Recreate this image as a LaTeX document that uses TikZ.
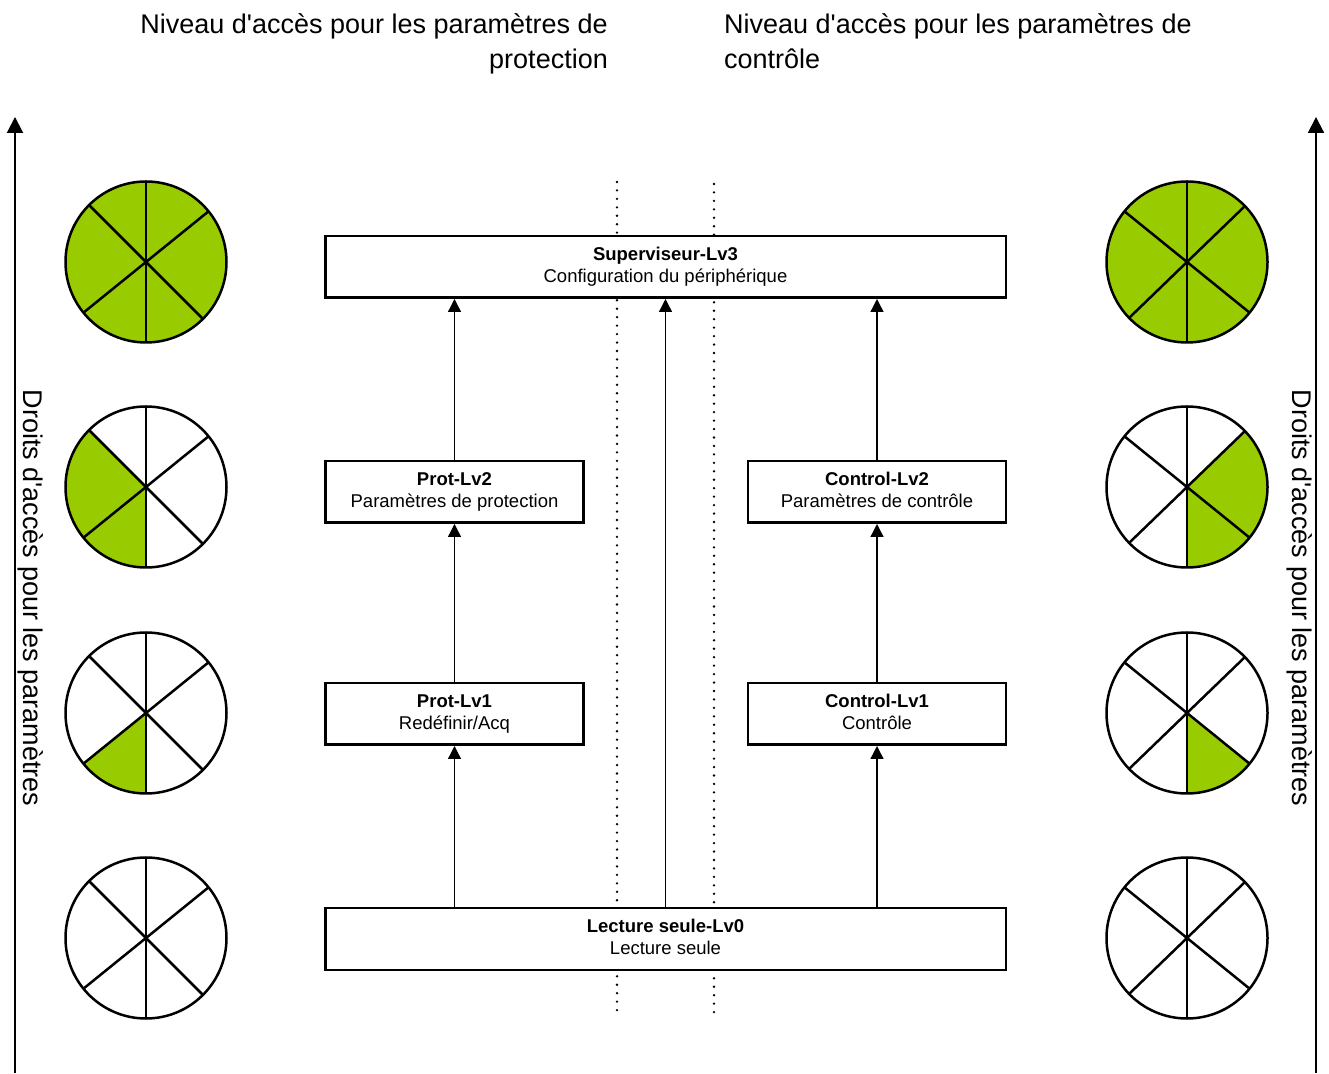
\documentclass[tikz,border=0pt]{standalone}
\usepackage{fontspec}
\setmainfont{Liberation Sans}
\usetikzlibrary{arrows.meta}
\definecolor{leaf}{HTML}{99CC00}
\begin{document}
\begin{tikzpicture}[x=1pt,y=1pt,
  lvbox/.style={draw, line width=2.5pt, fill=white, minimum height=61.5pt, align=center,
    font=\fontsize{18.5}{22}\selectfont, inner sep=0pt},
  widebox/.style={lvbox, minimum width=680.5pt},
  smallbox/.style={lvbox, minimum width=258pt},
  conn/.style={line width=1.3pt, -{Triangle[width=13pt,length=13pt]}},
  sidearrow/.style={line width=2pt, -{Triangle[width=16pt,length=16pt]}},
  dotline/.style={line width=2.6pt, line cap=round, dash pattern=on 0pt off 8.45pt},
  pieline/.style={line width=2.5pt},
  toptext/.style={font=\fontsize{27}{35}\selectfont, inner sep=0pt},
  sidetext/.style={font=\fontsize{27}{35}\selectfont, inner sep=0pt, rotate=-90}
]
\useasboundingbox (0,0) rectangle (1329,1073);

% dotted separators
\coordinate (d1t) at (617,891); \coordinate (d1b) at (617,56);
\coordinate (d2t) at (714,889); \coordinate (d2b) at (714,54);
\draw[dotline] (d1t) -- (d1b);
\draw[dotline] (d2t) -- (d2b);

% top texts
\node[toptext, anchor=north east, align=right] (tl) at (608,1060)
  {Niveau d\textquotesingle accès pour les paramètres de\\protection};
\node[toptext, anchor=north west, align=left] (tr) at (724,1060)
  {Niveau d\textquotesingle accès pour les paramètres de\\contrôle};

% side arrows
\coordinate (lb) at (15,0); \coordinate (lt) at (15,956);
\coordinate (rb) at (1316,0); \coordinate (rt) at (1316,956);
\draw[sidearrow] (lb) -- (lt);
\draw[sidearrow] (rb) -- (rt);
\node[sidetext] (sl) at (31,475) {Droits d\textquotesingle accès pour les paramètres};
\node[sidetext] (sr) at (1300,475) {Droits d\textquotesingle accès pour les paramètres};

% level boxes
\node[widebox] (sup) at (665.5,806) {\strut\textbf{Superviseur-Lv3}\\Configuration du périphérique\strut};
\node[smallbox] (p2) at (454.5,581) {\strut\textbf{Prot-Lv2}\\Paramètres de protection\strut};
\node[smallbox] (c2) at (877,581) {\strut\textbf{Control-Lv2}\\Paramètres de contrôle\strut};
\node[smallbox] (p1) at (454.5,359) {\strut\textbf{Prot-Lv1}\\Redéfinir/Acq\strut};
\node[smallbox] (c1) at (877,359) {\strut\textbf{Control-Lv1}\\Contrôle\strut};
\node[widebox] (lec) at (665.5,134) {\strut\textbf{Lecture seule-Lv0}\\Lecture seule\strut};

% connectors
\draw[conn] (lec.north -| p1.south) -- (p1.south);
\draw[conn] (p1.north) -- (p2.south);
\draw[conn] (p2.north) -- (sup.south -| p2.north);
\draw[conn] (lec.north) -- (sup.south);
\draw[conn] (lec.north -| c1.south) -- (c1.south);
\draw[conn] (c1.north) -- (c2.south);
\draw[conn] (c2.north) -- (sup.south -| c2.north);

% left pies (lines at 90/270, 39/219, 135/315)
\def\R{80.5}
\fill[leaf] (146,811) circle[radius=\R];
\fill[leaf] (146,586) -- ++(135:\R) arc[start angle=135,end angle=270,radius=\R] -- cycle;
\fill[leaf] (146,360) -- ++(219:\R) arc[start angle=219,end angle=270,radius=\R] -- cycle;
\foreach \y in {811,586,360,135}{
  \draw[pieline] (146,\y) circle[radius=\R];
  \draw[pieline] (146,\y) ++(90:\R) -- ++(270:2*\R);
  \draw[pieline] (146,\y) ++(39:\R) -- ++(219:2*\R);
  \draw[pieline] (146,\y) ++(135:\R) -- ++(315:2*\R);
}
% right pies (lines at 90/270, 44/224, 141/321)
\fill[leaf] (1187,811) circle[radius=\R];
\fill[leaf] (1187,586) -- ++(270:\R) arc[start angle=270,end angle=404,radius=\R] -- cycle;
\fill[leaf] (1187,360) -- ++(270:\R) arc[start angle=270,end angle=321,radius=\R] -- cycle;
\foreach \y in {811,586,360,135}{
  \draw[pieline] (1187,\y) circle[radius=\R];
  \draw[pieline] (1187,\y) ++(90:\R) -- ++(270:2*\R);
  \draw[pieline] (1187,\y) ++(44:\R) -- ++(224:2*\R);
  \draw[pieline] (1187,\y) ++(141:\R) -- ++(321:2*\R);
}
\end{tikzpicture}
\end{document}
